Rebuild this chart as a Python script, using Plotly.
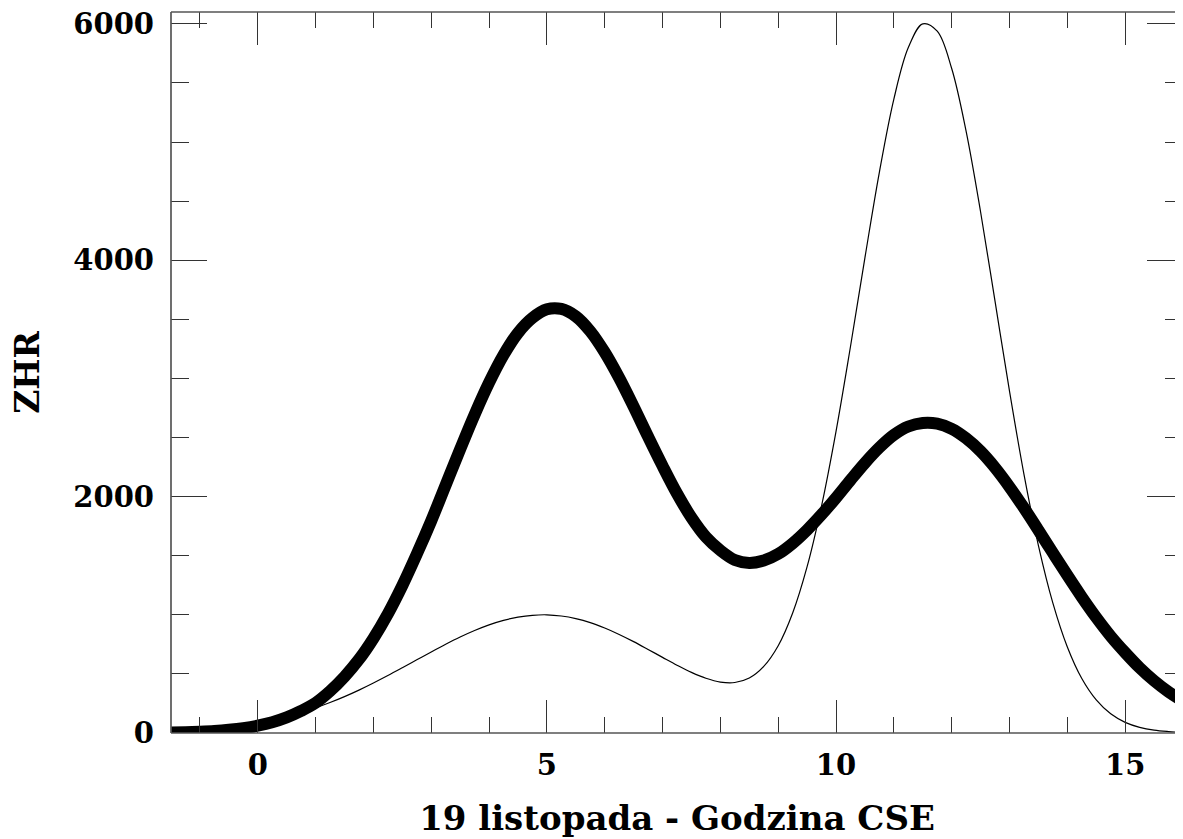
import plotly.graph_objects as go

# Hours (19 Nov, CSE), 15-minute grid
hours = [-1.5, -1.25, -1.0, -0.75, -0.5, -0.25, 0.0, 0.25, 0.5, 0.75, 1.0, 1.25,
         1.5, 1.75, 2.0, 2.25, 2.5, 2.75, 3.0, 3.25, 3.5, 3.75, 4.0, 4.25,
         4.5, 4.75, 5.0, 5.25, 5.5, 5.75, 6.0, 6.25, 6.5, 6.75, 7.0, 7.25,
         7.5, 7.75, 8.0, 8.25, 8.5, 8.75, 9.0, 9.25, 9.5, 9.75, 10.0, 10.25,
         10.5, 10.75, 11.0, 11.25, 11.5, 11.75, 12.0, 12.25, 12.5, 12.75, 13.0, 13.25,
         13.5, 13.75, 14.0, 14.25, 14.5, 14.75, 15.0, 15.25, 15.5, 15.75, 16.0]

# thin curve ZHR
zhr_thin = [16, 22, 30, 40, 53, 69, 88, 112, 141, 174, 213, 258,
            308, 363, 423, 486, 552, 619, 686, 751, 812, 867, 915, 953,
            980, 996, 1000, 990, 968, 934, 888, 834, 773, 707, 640, 574,
            513, 463, 431, 427, 465, 563, 738, 1015, 1407, 1922, 2552, 3270,
            4022, 4746, 5363, 5799, 6000, 5938, 5622, 5090, 4408, 3651, 2892, 2189,
            1586, 1099, 728, 461, 280, 162, 90, 48, 24, 12, 5]

# thick curve ZHR
zhr_thick = [4, 7, 11, 17, 27, 41, 62, 91, 132, 187, 255, 354,
             476, 622, 800, 1008, 1247, 1513, 1795, 2099, 2401, 2694, 2964, 3198,
             3385, 3512, 3585, 3588, 3525, 3399, 3221, 3004, 2761, 2507, 2260, 2026,
             1822, 1658, 1545, 1464, 1439, 1459, 1515, 1605, 1718, 1848, 1990, 2140,
             2285, 2415, 2522, 2593, 2623, 2617, 2573, 2493, 2383, 2244, 2082, 1904,
             1716, 1524, 1334, 1150, 977, 819, 680, 552, 442, 348, 270]

x_tickvals = [0, 5, 10, 15]
y_tickvals = [0, 2000, 4000, 6000]

FONT = "DejaVu Serif"

fig = go.Figure()
fig.add_trace(go.Scatter(x=hours, y=zhr_thick, mode="lines",
                         line=dict(color="black", width=12, shape="spline", smoothing=1.0),
                         hoverinfo="skip", showlegend=False))
fig.add_trace(go.Scatter(x=hours, y=zhr_thin, mode="lines",
                         line=dict(color="black", width=1.2, shape="spline", smoothing=1.0),
                         hoverinfo="skip", showlegend=False))

axis_line = dict(type="line", xref="paper", yref="paper",
                 line=dict(color="#555555", width=1.7), layer="above")
fig.add_shape(x0=0, x1=0, y0=0, y1=1, **axis_line)
fig.add_shape(x0=0, x1=1, y0=0, y1=0, **axis_line)
fig.add_shape(x0=0, x1=1, y0=1, y1=1, **axis_line)

fig.update_layout(
    width=1175, height=831,
    margin=dict(l=163, r=0, t=4, b=106),
    paper_bgcolor="white", plot_bgcolor="white",
    font=dict(family=FONT, size=29, color="black"),
    showlegend=False,
    xaxis=dict(
        range=[-1.5, 16], tickvals=x_tickvals, ticktext=[str(v) for v in x_tickvals],
        ticks="inside", ticklen=33, tickwidth=1, tickcolor="#333333",
        minor=dict(dtick=1, tick0=0, ticks="inside", ticklen=16, tickwidth=1, tickcolor="#333333"),
        mirror="ticks", showline=False, showgrid=False, zeroline=False,
        tickfont=dict(family=FONT, size=29, color="black", weight="bold"),
        ticklabelstandoff=12, ticklabeloverflow="allow",
        title=dict(text="<b>19 listopada - Godzina CSE</b>", font=dict(family=FONT, size=34, color="black"),
                   standoff=25),
        automargin=False,
    ),
    yaxis=dict(
        range=[0, 6100], tickvals=y_tickvals, ticktext=[str(v) for v in y_tickvals],
        ticks="inside", ticklen=36, tickwidth=1, tickcolor="#333333",
        minor=dict(dtick=500, tick0=0, ticks="inside", ticklen=18, tickwidth=1, tickcolor="#333333"),
        mirror="ticks", showline=False, showgrid=False, zeroline=False,
        tickfont=dict(family=FONT, size=29, color="black", weight="bold"),
        ticklabelstandoff=16, ticklabeloverflow="allow",
        title=dict(text="<b>ZHR</b>", font=dict(family=FONT, size=33, color="black"),
                   standoff=30),
        automargin=False,
    ),
)

fig.write_html("out.html")
